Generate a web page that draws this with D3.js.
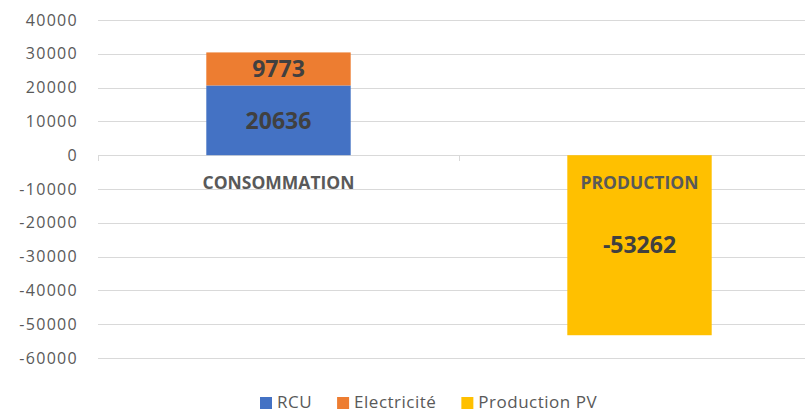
<!DOCTYPE html>
<html>
<head>
<meta charset="utf-8">
<script src="https://cdn.jsdelivr.net/npm/d3@7"></script>
<style>
  body { margin: 0; background: #fff; }
  text { font-family: "Open Sans", sans-serif; }
</style>
</head>
<body>
<div id="chart"></div>
<script>
const categories = ["CONSOMMATION", "PRODUCTION"];
const seriesNames = ["RCU", "Electricité", "Production PV"];
const rcu = [20636, 0];
const electricite = [9773, 0];
const productionPV = [0, -53262];
const yTicks = [40000, 30000, 20000, 10000, 0, -10000, -20000, -30000, -40000, -50000, -60000];
const colors = ["#4472C4", "#ED7D31", "#FFC000"];

const W = 805, H = 412;
const margin = {top: 20, left: 98, right: -15, bottom: 54};

const svg = d3.select("#chart").append("svg")
    .attr("width", W)
    .attr("height", H);

const rows = categories.map((c, i) => ({
  cat: c, "RCU": rcu[i], "Electricité": electricite[i], "Production PV": productionPV[i]
}));

const x = d3.scaleBand()
    .domain(categories)
    .range([margin.left, W - margin.right])
    .padding(0);

const y = d3.scaleLinear()
    .domain([-60000, 40000])
    .range([H - margin.bottom, margin.top]);

// grid
svg.append("g")
    .selectAll("line")
    .data(yTicks)
    .join("line")
    .attr("x1", margin.left)
    .attr("x2", W - margin.right)
    .attr("y1", d => Math.round(y(d)) + 0.5)
    .attr("y2", d => Math.round(y(d)) + 0.5)
    .attr("stroke", "#d9d9d9")
    .attr("stroke-width", 1);

// category tick marks on zero line
const tickX = categories.map(c => x(c)).concat([x(categories[1]) + x.bandwidth()]);
svg.append("g")
    .selectAll("line")
    .data(tickX)
    .join("line")
    .attr("x1", d => Math.round(d) + 0.5)
    .attr("x2", d => Math.round(d) + 0.5)
    .attr("y1", Math.round(y(0)))
    .attr("y2", Math.round(y(0)) + 6)
    .attr("stroke", "#d9d9d9");

// y axis labels
svg.append("g")
    .selectAll("text")
    .data(yTicks)
    .join("text")
    .attr("x", 78)
    .attr("y", d => y(d))
    .attr("dy", "0.35em")
    .attr("text-anchor", "end")
    .attr("fill", "#595959")
    .attr("font-size", "16px")
    .attr("letter-spacing", "1.3px")
    .text(d => d);

// stacked bars
const stack = d3.stack()
    .keys(seriesNames)
    .offset(d3.stackOffsetDiverging);
const layers = stack(rows);
const barW = x.bandwidth() * 0.4;

const segs = [];
layers.forEach((layer, li) => {
  layer.forEach(d => {
    if (d[1] - d[0] !== 0) segs.push({key: layer.key, li: li, cat: d.data.cat, y0: d[0], y1: d[1], v: d.data[layer.key]});
  });
});

svg.append("g")
    .selectAll("rect")
    .data(segs)
    .join("rect")
    .attr("x", d => x(d.cat) + (x.bandwidth() - barW) / 2)
    .attr("width", barW)
    .attr("y", d => y(Math.max(d.y0, d.y1)))
    .attr("height", d => Math.abs(y(d.y0) - y(d.y1)))
    .attr("fill", d => colors[d.li]);

// category labels
svg.append("g")
    .selectAll("text")
    .data(categories)
    .join("text")
    .attr("x", d => x(d) + x.bandwidth() / 2)
    .attr("y", y(0) + 34)
    .attr("text-anchor", "middle")
    .attr("fill", "#595959")
    .attr("font-size", "17.5px")
    .attr("font-weight", "bold")
    .text(d => d);

// data labels
svg.append("g")
    .selectAll("text")
    .data(segs)
    .join("text")
    .attr("x", d => x(d.cat) + x.bandwidth() / 2)
    .attr("y", d => y((d.y0 + d.y1) / 2))
    .attr("dy", "0.36em")
    .attr("text-anchor", "middle")
    .attr("fill", "#404040")
    .attr("font-size", "23px")
    .attr("font-weight", "bold")
    .text(d => d.v);

// legend
const legend = svg.append("g");
let lx = 260;
seriesNames.forEach((name, i) => {
  legend.append("rect")
      .attr("x", lx)
      .attr("y", 397)
      .attr("width", 12)
      .attr("height", 12)
      .attr("fill", colors[i]);
  const t = legend.append("text")
      .attr("x", lx + 17)
      .attr("y", 408)
      .attr("fill", "#595959")
      .attr("font-size", "17px")
      .attr("letter-spacing", "0.5px")
      .text(name);
  lx += 17 + t.node().getComputedTextLength() + 25;
});
</script>
</body>
</html>
